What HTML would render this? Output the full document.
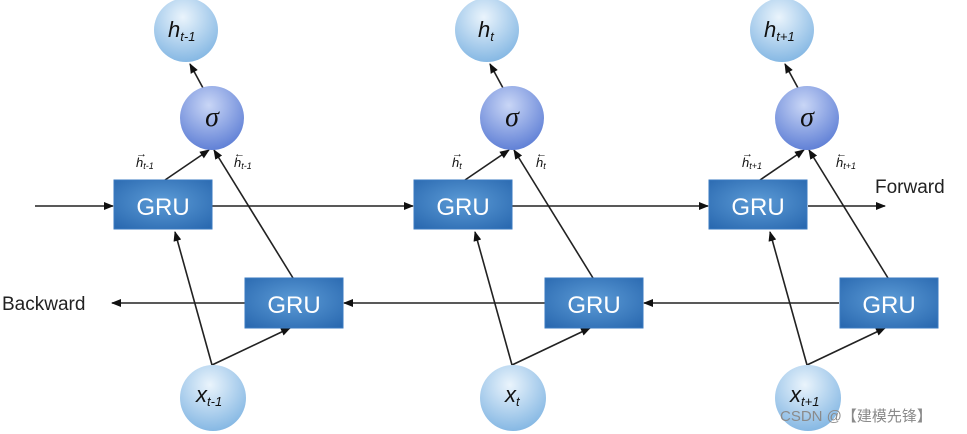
<!DOCTYPE html>
<html><head><meta charset="utf-8"><style>
html,body{margin:0;padding:0;background:#fff;width:967px;height:434px;overflow:hidden}
svg{display:block}
</style></head><body>
<svg width="967" height="434" viewBox="0 0 967 434" xmlns="http://www.w3.org/2000/svg">
<defs>
<radialGradient id="cb" cx="0.45" cy="0.3" r="0.75"><stop offset="0" stop-color="#eaf4fc"/><stop offset="1" stop-color="#7fb4e2"/></radialGradient>
<radialGradient id="cs" cx="0.45" cy="0.3" r="0.75"><stop offset="0" stop-color="#c9d6f6"/><stop offset="1" stop-color="#5a7bd4"/></radialGradient>
<radialGradient id="gb" cx="0.5" cy="0.45" r="0.7"><stop offset="0" stop-color="#5c9bd6"/><stop offset="1" stop-color="#2a69b0"/></radialGradient>
<marker id="a" markerWidth="10" markerHeight="8" refX="9" refY="4" orient="auto" markerUnits="userSpaceOnUse"><path d="M0,0 L10,4 L0,8 z" fill="#111"/></marker>
</defs>
<g stroke="#222" stroke-width="1.6" fill="none">
<line x1="35" y1="206" x2="113" y2="206" marker-end="url(#a)"/>
<line x1="212" y1="206" x2="413" y2="206" marker-end="url(#a)"/>
<line x1="512" y1="206" x2="708" y2="206" marker-end="url(#a)"/>
<line x1="808" y1="206" x2="885" y2="206" marker-end="url(#a)"/>
<line x1="839" y1="303" x2="644" y2="303" marker-end="url(#a)"/>
<line x1="545" y1="303" x2="344" y2="303" marker-end="url(#a)"/>
<line x1="245" y1="303" x2="112" y2="303" marker-end="url(#a)"/>
</g>
<g id="col">
<g stroke="#222" stroke-width="1.6" fill="none">
<line x1="212" y1="365" x2="175" y2="232" marker-end="url(#a)"/>
<line x1="212" y1="365" x2="290" y2="328" marker-end="url(#a)"/>
<line x1="165" y1="180" x2="209" y2="150" marker-end="url(#a)"/>
<line x1="293" y1="278" x2="214" y2="150" marker-end="url(#a)"/>
<line x1="203" y1="88" x2="190" y2="64" marker-end="url(#a)"/>
</g>
<rect x="114" y="180" width="98" height="49" fill="url(#gb)" stroke="#3a7ac0"/>
<rect x="245" y="278" width="98" height="50" fill="url(#gb)" stroke="#3a7ac0"/>
<text x="163" y="215" font-family="Liberation Sans, sans-serif" font-size="24" fill="#fff" text-anchor="middle">GRU</text>
<text x="294" y="313" font-family="Liberation Sans, sans-serif" font-size="24" fill="#fff" text-anchor="middle">GRU</text>
<circle cx="212" cy="118" r="32" fill="url(#cs)"/>
<text x="212" y="126" font-family="Liberation Serif, serif" font-style="italic" font-size="28" fill="#111" text-anchor="middle">σ</text>
</g>
<use href="#col" x="300"/>
<use href="#col" x="595"/>
<g font-family="Liberation Sans, sans-serif" font-style="italic" fill="#111">
<circle cx="186" cy="30" r="32" fill="url(#cb)"/>
<circle cx="487" cy="30" r="32" fill="url(#cb)"/>
<circle cx="782" cy="30" r="32" fill="url(#cb)"/>
<circle cx="213" cy="398" r="33" fill="url(#cb)"/>
<circle cx="513" cy="398" r="33" fill="url(#cb)"/>
<circle cx="808" cy="398" r="33" fill="url(#cb)"/>
<text x="168" y="37" font-size="22">h<tspan font-size="13" dy="4">t-1</tspan></text>
<text x="478" y="37" font-size="22">h<tspan font-size="13" dy="4">t</tspan></text>
<text x="764" y="37" font-size="22">h<tspan font-size="13" dy="4">t+1</tspan></text>
<text x="196" y="402" font-size="22">x<tspan font-size="13" dy="4">t-1</tspan></text>
<text x="505" y="402" font-size="22">x<tspan font-size="13" dy="4">t</tspan></text>
<text x="790" y="402" font-size="22">x<tspan font-size="13" dy="4">t+1</tspan></text>
<g font-size="13">
<text x="136" y="167">h<tspan font-size="9" dy="2">t-1</tspan></text><text x="136" y="157" font-style="normal" font-size="11">→</text>
<text x="234" y="167">h<tspan font-size="9" dy="2">t-1</tspan></text><text x="234" y="157" font-style="normal" font-size="11">←</text>
<text x="452" y="167">h<tspan font-size="9" dy="2">t</tspan></text><text x="452" y="157" font-style="normal" font-size="11">→</text>
<text x="536" y="167">h<tspan font-size="9" dy="2">t</tspan></text><text x="536" y="157" font-style="normal" font-size="11">←</text>
<text x="742" y="167">h<tspan font-size="9" dy="2">t+1</tspan></text><text x="742" y="157" font-style="normal" font-size="11">→</text>
<text x="836" y="167">h<tspan font-size="9" dy="2">t+1</tspan></text><text x="836" y="157" font-style="normal" font-size="11">←</text>
</g>
</g>
<text x="875" y="193" font-family="Liberation Sans, sans-serif" font-size="19" fill="#222">Forward</text>
<text x="2" y="310" font-family="Liberation Sans, sans-serif" font-size="19" fill="#222">Backward</text>
<text x="780" y="421" font-family="Liberation Sans, 'Noto Sans CJK SC', sans-serif" font-size="15" fill="#8a8a8a">CSDN @【建模先锋】</text>
</svg>
</body></html>
